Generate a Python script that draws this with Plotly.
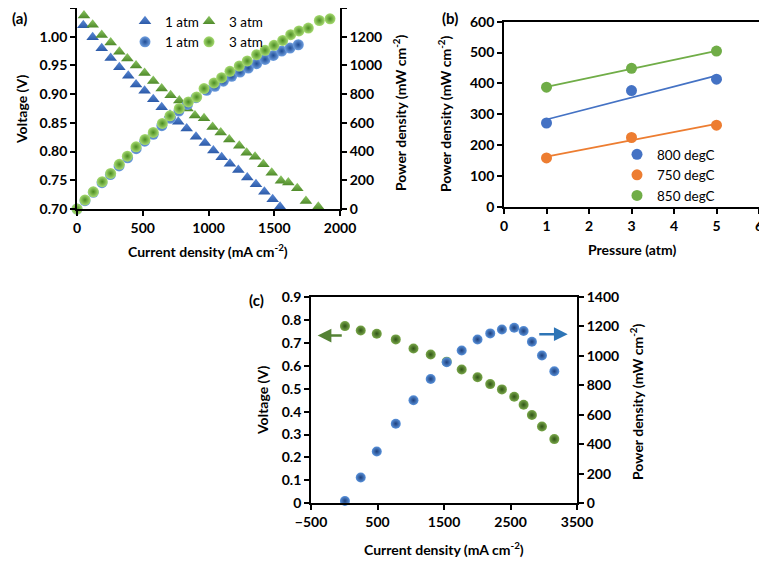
import numpy as np
import plotly.graph_objects as go

W, H = 767, 561
OFF = 8  # page body margin offset

# ---------------- Panel (a) data ----------------
a_i_v1 = [48, 119, 188, 256, 322, 390, 449, 514, 580, 644, 707, 770, 834, 905, 973, 1037,
          1100, 1163, 1227, 1295, 1361, 1425, 1488, 1544]
a_v1 = [1.020, 0.999, 0.980, 0.963, 0.947, 0.932, 0.917, 0.906, 0.891, 0.877, 0.864, 0.852,
        0.840, 0.826, 0.815, 0.802, 0.790, 0.779, 0.768, 0.755, 0.743, 0.730, 0.717, 0.704]
a_i_v3 = [53, 119, 188, 256, 322, 383, 449, 514, 580, 644, 712, 778, 840, 897, 966, 1031,
          1093, 1158, 1234, 1290, 1354, 1417, 1481, 1551, 1607, 1675, 1741, 1835]
a_v3 = [1.037, 1.021, 1.003, 0.990, 0.974, 0.962, 0.950, 0.937, 0.923, 0.910, 0.898, 0.889,
        0.875, 0.863, 0.858, 0.843, 0.833, 0.821, 0.810, 0.798, 0.791, 0.778, 0.763, 0.749,
        0.746, 0.736, 0.714, 0.704]
a_i_p1 = [0, 61, 124, 190, 254, 320, 385, 450, 515, 580, 645, 710, 775, 840, 905, 986, 1049,
          1113, 1176, 1240, 1303, 1366, 1430, 1493, 1557, 1620, 1683]
a_p1 = [0, 58, 116, 183, 240, 300, 357, 420, 472, 520, 580, 632, 682, 728, 775, 827, 855,
        890, 924, 954, 982, 1012, 1042, 1070, 1100, 1121, 1144]
a_i_p3 = [0, 61, 124, 192, 256, 322, 383, 449, 517, 580, 649, 707, 778, 847, 910, 966, 1042,
          1100, 1163, 1234, 1295, 1366, 1430, 1498, 1564, 1625, 1688, 1759, 1843, 1924]
a_p3 = [0, 63, 120, 190, 248, 311, 368, 433, 484, 533, 596, 649, 700, 746, 780, 839, 878,
        915, 959, 996, 1031, 1075, 1105, 1140, 1174, 1214, 1240, 1260, 1313, 1325]

# ---------------- Panel (b) data ----------------
b_pressure = [1, 3, 5]
b_800 = [272, 377, 414]
b_750 = [159, 225, 265]
b_850 = [388, 449, 505]

# ---------------- Panel (c) data ----------------
c_i = [10, 248, 489, 775, 1041, 1300, 1541, 1766, 2004, 2195, 2371, 2556, 2697, 2822, 2973, 3159]
c_v = [0.773, 0.754, 0.740, 0.715, 0.675, 0.649, 0.618, 0.584, 0.550, 0.520, 0.497, 0.465,
       0.430, 0.385, 0.335, 0.280]
c_p = [16, 175, 352, 540, 699, 844, 957, 1037, 1112, 1153, 1180, 1191, 1169, 1096, 1003, 896]


def px(x):
    return (x - OFF) / W


def py(y):
    return 1 - (y - OFF) / H


def dom(a, b):
    return [max(0.0, min(1.0, a)), max(0.0, min(1.0, b))]


FONT = "Lato"

fig = go.Figure()

# ---- (a) traces ----
fig.add_trace(go.Scatter(x=a_i_v1, y=a_v1, mode="markers", name="1 atm", legend="legend",
                         marker=dict(symbol="triangle-up", size=11, color="#5b8ad6",
                                     gradient=dict(type="vertical", color="#2c5aa8")),
                         xaxis="x", yaxis="y", cliponaxis=False))
fig.add_trace(go.Scatter(x=a_i_v3, y=a_v3, mode="markers", name="3 atm", legend="legend2",
                         marker=dict(symbol="triangle-up", size=11, color="#8cc663",
                                     gradient=dict(type="vertical", color="#4f8a2a")),
                         xaxis="x", yaxis="y", cliponaxis=False))
fig.add_trace(go.Scatter(x=a_i_p1, y=a_p1, mode="markers", name="1 atm", legend="legend",
                         marker=dict(symbol="circle", size=11, color="#6f9fe0",
                                     gradient=dict(type="radial", color="#1f4c94")),
                         xaxis="x", yaxis="y2", cliponaxis=False))
fig.add_trace(go.Scatter(x=a_i_p3, y=a_p3, mode="markers", name="3 atm", legend="legend2",
                         marker=dict(symbol="circle", size=11, color="#a8dc72",
                                     gradient=dict(type="radial", color="#4a8a22")),
                         xaxis="x", yaxis="y2", cliponaxis=False))

# ---- (b) traces ----
b_series = [("800 degC", b_800, "#4472c4"), ("750 degC", b_750, "#ed7d31"), ("850 degC", b_850, "#70ad47")]
for name, vals, col in b_series:
    k, c0 = np.polyfit(b_pressure, vals, 1)
    xs = np.array([min(b_pressure), max(b_pressure)])
    fig.add_trace(go.Scatter(x=xs, y=k * xs + c0, mode="lines", line=dict(color=col, width=1.8),
                             showlegend=False, xaxis="x2", yaxis="y3", hoverinfo="skip"))
for name, vals, col in b_series:
    fig.add_trace(go.Scatter(x=b_pressure, y=vals, mode="markers", name=name, legend="legend3",
                             marker=dict(size=11, color=col), xaxis="x2", yaxis="y3",
                             cliponaxis=False))

# ---- (c) traces ----
fig.add_trace(go.Scatter(x=c_i, y=c_v, mode="markers", showlegend=False,
                         marker=dict(size=10, color="#7aa84a", gradient=dict(type="radial", color="#2f5416")),
                         xaxis="x3", yaxis="y4", cliponaxis=False))
fig.add_trace(go.Scatter(x=c_i, y=c_p, mode="markers", showlegend=False,
                         marker=dict(size=10, color="#5a93dc", gradient=dict(type="radial", color="#1d3f7c")),
                         xaxis="x3", yaxis="y5", cliponaxis=False))

tickfont = dict(family=FONT, size=14, color="black", weight="bold")
common = dict(showline=True, linecolor="black", linewidth=1.8, ticks="outside", ticklen=5,
              tickwidth=1.5, tickcolor="black", showgrid=False, zeroline=False, tickfont=tickfont,
              automargin=False)

leg_common = dict(xanchor="left", yanchor="top", orientation="v", bgcolor="rgba(0,0,0,0)",
                  font=dict(family=FONT, size=13.5, color="black"), itemwidth=30, tracegroupgap=0)

fig.update_layout(
    width=W, height=H, margin=dict(l=0, r=0, t=0, b=0, autoexpand=False),
    paper_bgcolor="white", plot_bgcolor="white",
    font=dict(family=FONT, color="black"),
    xaxis=dict(domain=dom(px(77), px(340)), range=[0, 2000], dtick=500, anchor="y", mirror=True, **common),
    yaxis=dict(domain=dom(py(209), py(8)), range=[0.70, 1.05], dtick=0.05, tickformat=".2f",
               anchor="x", **common),
    yaxis2=dict(domain=dom(py(209), py(8)), range=[0, 1400], dtick=200, overlaying="y", side="right",
                anchor="x", **common),
    xaxis2=dict(domain=dom(px(504), px(759)), range=[0, 6], dtick=1, anchor="y3", mirror=True, **common),
    yaxis3=dict(domain=dom(py(207), py(21.7)), range=[0, 600], dtick=100, anchor="x2", mirror=True, **common),
    xaxis3=dict(domain=dom(px(311), px(577)), range=[-500, 3500], dtick=1000, tick0=-500, anchor="y4",
                mirror=True, **common),
    yaxis4=dict(domain=dom(py(503.3), py(297)), range=[0, 0.9], dtick=0.1, anchor="x3", **common),
    yaxis5=dict(domain=dom(py(503.3), py(297)), range=[0, 1400], dtick=200, overlaying="y4", side="right",
                anchor="x3", **common),
    legend=dict(x=px(125), y=py(6), **leg_common),
    legend2=dict(x=px(189), y=py(6), **leg_common),
    legend3=dict(x=px(617), y=py(139), **leg_common),
)

ann = []


def add_text(text, x, y, angle=0, size=14):
    ann.append(dict(text=text, x=px(x), y=py(y), xref="paper", yref="paper", showarrow=False,
                    textangle=angle, font=dict(family=FONT, size=size, color="black", weight="bold"),
                    xanchor="center", yanchor="middle"))


add_text("(a)", 19, 18, size=15)
add_text("(b)", 450, 18, size=15)
add_text("(c)", 256, 300, size=15)
add_text("Voltage (V)", 21, 110, -90)
add_text("Power density (mW cm<sup>-2</sup>)", 399, 112, -90)
add_text("Current density (mA cm<sup>-2</sup>)", 208, 250)
add_text("Power density (mW cm<sup>-2</sup>)", 444, 114, -90)
add_text("Pressure (atm)", 632, 249)
add_text("Voltage (V)", 262, 401, -90)
add_text("Power density (mW cm<sup>-2</sup>)", 636, 402, -90)
add_text("Current density (mA cm<sup>-2</sup>)", 444, 548)

# arrows in (c)
ann.append(dict(x=-400, y=0.732, ax=-15, ay=0.732, xref="x3", yref="y4", axref="x3", ayref="y4",
                text="", showarrow=True, arrowhead=2, arrowsize=1.1, arrowwidth=2.5, arrowcolor="#548235"))
ann.append(dict(x=3360, y=1148, ax=2910, ay=1148, xref="x3", yref="y5", axref="x3", ayref="y5",
                text="", showarrow=True, arrowhead=2, arrowsize=1.1, arrowwidth=2.5, arrowcolor="#2e75b6"))

fig.update_layout(annotations=ann)
fig.write_html("out.html")
